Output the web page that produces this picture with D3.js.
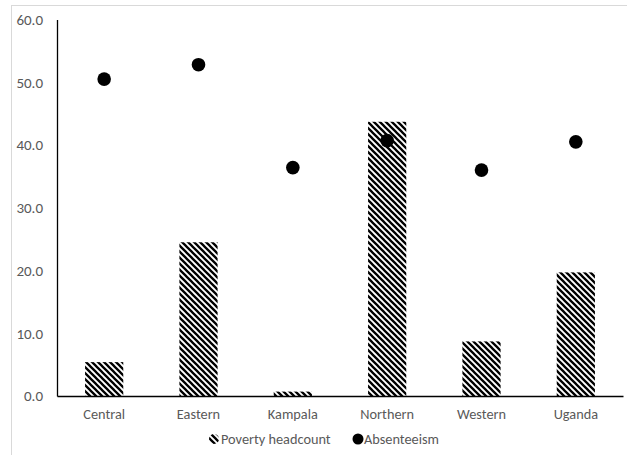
<!DOCTYPE html>
<html>
<head>
<meta charset="utf-8">
<script src="https://cdn.jsdelivr.net/npm/d3@7"></script>
<style>
  html, body { margin: 0; padding: 0; background: #fff; }
  svg { display: block; }
  text { font-family: Carlito, Calibri, Lato, "Open Sans", sans-serif; }
</style>
</head>
<body>
<script>
const categories = ["Central", "Eastern", "Kampala", "Northern", "Western", "Uganda"];
const povertyHeadcount = [5.4, 24.5, 0.7, 43.7, 8.7, 19.7];
const absenteeism = [50.5, 52.8, 36.4, 40.7, 36.0, 40.5];
const yTicks = [0, 10, 20, 30, 40, 50, 60];
const seriesNames = ["Poverty headcount", "Absenteeism"];

const W = 627, H = 455;
const svg = d3.select("body").append("svg").attr("width", W).attr("height", H);

// pattern
const defs = svg.append("defs");
const pat = defs.append("pattern").attr("id", "stripes")
  .attr("patternUnits", "userSpaceOnUse").attr("width", 6).attr("height", 6);
pat.append("rect").attr("width", 6).attr("height", 6).attr("fill", "#fff");
pat.append("path").attr("d", "M-1,-1 L7,7 M-4,2 L2,8 M4,-2 L8,2")
  .attr("stroke", "#000").attr("stroke-width", 2.3);

// chart frame
svg.append("rect").attr("x", 11.5).attr("y", 5.5).attr("width", 640).attr("height", 470)
  .attr("fill", "none").attr("stroke", "#d9d9d9").attr("stroke-width", 1);

const x0 = 57, x1 = 623, yTop = 19.5, yBot = 396;
const x = d3.scaleBand().domain(categories).range([x0, x1]).padding(0);
const y = d3.scaleLinear().domain([0, 60]).range([yBot, yTop]);

// y axis
const yAxis = svg.append("g").attr("transform", `translate(${x0},0)`)
  .call(d3.axisLeft(y).tickValues(yTicks).tickFormat(d3.format(".1f")).tickSize(0).tickPadding(14));
yAxis.select(".domain").attr("stroke", "#000").attr("stroke-width", 1.3);
yAxis.selectAll("text").attr("fill", "#595959").style("font-size", "15px");

// bars
const bw = x.bandwidth() * 0.405;
svg.append("g").selectAll("rect").data(categories).join("rect")
  .attr("x", (d) => x(d) + x.bandwidth() / 2 - bw / 2)
  .attr("width", bw)
  .attr("y", (d, i) => y(povertyHeadcount[i]))
  .attr("height", (d, i) => yBot - y(povertyHeadcount[i]))
  .attr("fill", "url(#stripes)");

// x axis
const xAxis = svg.append("g").attr("transform", `translate(0,${yBot})`)
  .call(d3.axisBottom(x).tickSize(0).tickPadding(13));
xAxis.select(".domain").attr("stroke", "#000").attr("stroke-width", 1.3);
xAxis.selectAll("text").attr("fill", "#595959").style("font-size", "14.3px");

// dots
svg.append("g").selectAll("circle").data(categories).join("circle")
  .attr("cx", (d) => x(d) + x.bandwidth() / 2)
  .attr("cy", (d, i) => y(absenteeism[i]))
  .attr("r", 6.8).attr("fill", "#000");

// legend
const lg = svg.append("g").attr("transform", "translate(0,439)");
lg.append("circle").attr("cx", 214).attr("cy", 0).attr("r", 5).attr("fill", "url(#stripes)");
lg.append("text").attr("x", 221).attr("y", 0).attr("dy", "0.35em")
  .attr("fill", "#595959").style("font-size", "14.3px").text(seriesNames[0]);
lg.append("circle").attr("cx", 358).attr("cy", 0).attr("r", 5.5).attr("fill", "#000");
lg.append("text").attr("x", 364).attr("y", 0).attr("dy", "0.35em")
  .attr("fill", "#595959").style("font-size", "14.3px").text(seriesNames[1]);
</script>
</body>
</html>
